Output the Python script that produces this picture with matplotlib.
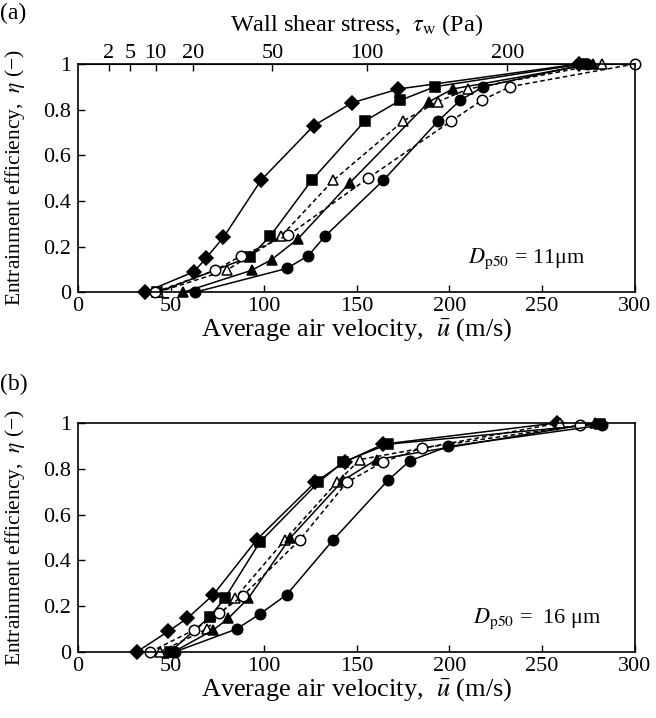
import numpy as np
import matplotlib
matplotlib.use("Agg")
import matplotlib.pyplot as plt

plt.rcParams["font.family"] = ["Liberation Serif", "DejaVu Serif"]
plt.rcParams["mathtext.fontset"] = "stix"

# panel (a) data: average air velocity (m/s) vs entrainment efficiency
a_dia_u = [36, 62.5, 69, 78.3, 98.5, 127, 147.7, 172.5, 270]
a_dia_e = [0, 0.09, 0.15, 0.24, 0.49, 0.73, 0.83, 0.89, 1.0]
a_sq_u = [42.7, 92.6, 103.4, 125.8, 154.5, 173.4, 192.2, 272]
a_sq_e = [0, 0.155, 0.245, 0.49, 0.75, 0.84, 0.90, 1.0]
a_otri_u = [43, 80, 109.3, 137.5, 175.2, 194, 210, 282]
a_otri_e = [0, 0.096, 0.245, 0.49, 0.75, 0.835, 0.89, 1.0]
a_tri_u = [56.7, 93.5, 104.3, 118.6, 146.5, 189.2, 201.7, 277.5]
a_tri_e = [0, 0.096, 0.143, 0.235, 0.48, 0.835, 0.89, 1.0]
a_ocir_u = [41.5, 73.8, 88, 113.3, 156.3, 201, 217.4, 232.6, 300]
a_ocir_e = [0, 0.096, 0.16, 0.25, 0.50, 0.75, 0.84, 0.90, 1.0]
a_cir_u = [63, 112.4, 124, 133, 164.4, 194, 205.7, 218.3, 274]
a_cir_e = [0, 0.104, 0.16, 0.245, 0.49, 0.75, 0.84, 0.90, 1.0]

# panel (b) data
b_dia_u = [31.6, 48.6, 58.9, 72.9, 96.2, 127.6, 143.8, 164.4, 257.8]
b_dia_e = [0, 0.09, 0.147, 0.25, 0.49, 0.74, 0.83, 0.907, 1.0]
b_sq_u = [49.5, 71, 79, 98, 129.4, 142.9, 167, 281]
b_sq_e = [0, 0.154, 0.234, 0.48, 0.74, 0.83, 0.907, 0.995]
b_otri_u = [44, 69.3, 84.5, 111.5, 139.3, 151.9, 259.6]
b_otri_e = [0, 0.10, 0.234, 0.49, 0.74, 0.84, 1.0]
b_tri_u = [51.3, 72.9, 81, 91.7, 114.2, 142.9, 160.8, 278.4]
b_tri_e = [0, 0.096, 0.147, 0.234, 0.497, 0.75, 0.84, 1.0]
b_ocir_u = [38.8, 62.5, 76.1, 88.7, 119.5, 144.7, 164.4, 185, 270.3]
b_ocir_e = [0, 0.096, 0.17, 0.245, 0.49, 0.74, 0.83, 0.89, 0.99]
b_cir_u = [52, 85.4, 98, 112.4, 137.5, 167, 178.8, 199.4, 282]
b_cir_e = [0, 0.10, 0.166, 0.25, 0.49, 0.75, 0.835, 0.897, 0.99]

tau_ticks = [2, 5, 10, 20, 50, 100, 200]
K_TAU = 0.01459  # tau_w = K * u^1.75


def u2tau(u):
    return K_TAU * np.clip(u, 1e-6, None) ** 1.75


def tau2u(t):
    return (np.clip(t, 1e-9, None) / K_TAU) ** (1 / 1.75)


def draw(ax, sets):
    for u, e, m, filled, ls in sets:
        fc = "black" if filled else "white"
        ax.plot(u, e, color="black", lw=1.1, ls=ls, marker=m, ms=7.5,
                mfc=fc, mec="black", mew=1.1, dashes=(3, 2) if ls == "--" else (None, None))


def style(ax):
    ax.set_xlim(0, 300)
    ax.set_ylim(0, 1)
    ax.set_xticks([0, 50, 100, 150, 200, 250, 300])
    ax.set_yticks([0, 0.2, 0.4, 0.6, 0.8, 1.0])
    ax.set_yticklabels(["0", "0.2", "0.4", "0.6", "0.8", "1"])
    ax.tick_params(direction="in", length=5, width=1, labelsize=16,
                   top=False, right=False)
    ax.tick_params(axis="y", pad=5)
    for s in ax.spines.values():
        s.set_linewidth(1.2)
    ax.set_xlabel(r"Average air velocity,  $\bar{u}$ (m/s)", fontsize=19, labelpad=0)
    ax.set_ylabel(r"Entrainment efficiency,  $\eta$ (−)", fontsize=15.5, labelpad=12)


fig = plt.figure(figsize=(6.56, 7.18), dpi=100)
ax1 = fig.add_axes([0.119, 0.593, 0.849, 0.318])
ax2 = fig.add_axes([0.119, 0.092, 0.849, 0.319])

draw(ax1, [
    (a_dia_u, a_dia_e, "D", True, "-"),
    (a_sq_u, a_sq_e, "s", True, "-"),
    (a_otri_u, a_otri_e, "^", False, "--"),
    (a_tri_u, a_tri_e, "^", True, "-"),
    (a_ocir_u, a_ocir_e, "o", False, "--"),
    (a_cir_u, a_cir_e, "o", True, "-"),
])
draw(ax2, [
    (b_dia_u, b_dia_e, "D", True, "-"),
    (b_sq_u, b_sq_e, "s", True, "-"),
    (b_otri_u, b_otri_e, "^", False, "--"),
    (b_tri_u, b_tri_e, "^", True, "-"),
    (b_ocir_u, b_ocir_e, "o", False, "--"),
    (b_cir_u, b_cir_e, "o", True, "-"),
])

for ax in (ax1, ax2):
    style(ax)
    for ln in ax.lines:
        ln.set_clip_on(False)

top = ax1.secondary_xaxis("top", functions=(u2tau, tau2u))
top.set_xticks(tau_ticks)
top.set_xticklabels([str(t) for t in tau_ticks])
top.tick_params(direction="in", length=5, width=1, labelsize=16, pad=1)
top.set_xlabel(r"Wall shear stress,  $\tau_\mathrm{w}$ (Pa)", fontsize=17.5, labelpad=9)

ax1.text(0.70, 0.13, r"$D_\mathrm{p50}$ = 11μm", transform=ax1.transAxes, fontsize=16)
ax2.text(0.71, 0.125, r"$D_\mathrm{p50}$ =  16 μm", transform=ax2.transAxes, fontsize=16)

fig.text(0.0, 0.974, "(a)", fontsize=17)
fig.text(0.0, 0.457, "(b)", fontsize=17)

fig.savefig("out.png", dpi=100)
